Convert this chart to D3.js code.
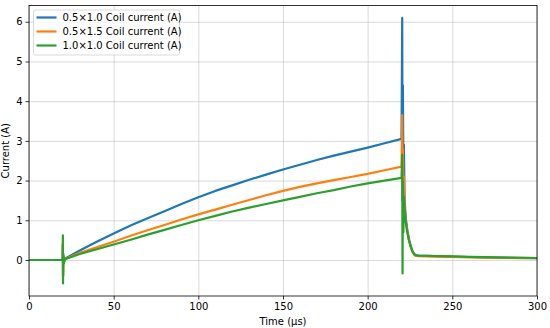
<!DOCTYPE html>
<meta charset="utf-8">
<html>
<head>
<style>
  body { margin: 0; background: #fff; }
  text { font-family: "DejaVu Sans", sans-serif; fill: #000; }
  .grid line { stroke: #b0b0b0; stroke-opacity: 0.6; stroke-width: 0.8; }
  .grid path { display: none; }
  .axis text { font-size: 10px; }
  .axis path, .axis line { stroke: #000; stroke-width: 0.8; }
</style>
</head>
<body>
<div id="chart"></div>

<script src="https://d3js.org/d3.v7.min.js"></script>
<script>

  // Time points (µs), shared by all three series
  var time = [0, 19.9, 20.0, 20.1, 20.3, 20.6, 21.2, 22,
    30, 40, 50, 60, 70, 80, 90, 100, 110, 120, 130, 140, 150, 160, 170, 180, 190, 200, 210, 220,
    220.4, 220.6, 220.8, 221.1, 221.4, 221.8, 222.5, 223.5, 224.5, 225.5, 226.5, 227.5, 228.5,
    230, 240, 250, 260, 270, 280, 290, 300];

  var current05x10 = [0, 0, 0.4, -0.4, 0.1, -0.05, 0.02, 0.05,
    0.24, 0.46, 0.67, 0.87, 1.05, 1.23, 1.41, 1.58, 1.74, 1.88, 2.02, 2.15, 2.28, 2.40, 2.52, 2.63, 2.73, 2.83, 2.94, 3.05,
    6.1, 1.5, 4.4, 2.2, 2.9, 1.5, 1.05, 0.72, 0.5, 0.34, 0.22, 0.15, 0.12,
    0.11, 0.095, 0.085, 0.075, 0.065, 0.058, 0.052, 0.047];

  var current05x15 = [0, 0, 0.4, -0.4, 0.1, -0.05, 0.02, 0.04,
    0.18, 0.32, 0.46, 0.61, 0.75, 0.88, 1.02, 1.15, 1.27, 1.39, 1.51, 1.63, 1.74, 1.84, 1.93, 2.01, 2.09, 2.17, 2.26, 2.35,
    3.65, 1.8, 2.8, 1.6, 2.1, 1.4, 1.0, 0.7, 0.48, 0.32, 0.2, 0.13, 0.1,
    0.095, 0.085, 0.075, 0.068, 0.06, 0.054, 0.049, 0.045];

  var current10x10 = [0, 0, 0.62, -0.59, 0.15, -0.08, 0.03, 0.03,
    0.15, 0.27, 0.39, 0.51, 0.64, 0.76, 0.88, 1.0, 1.11, 1.22, 1.32, 1.41, 1.50, 1.59, 1.68, 1.76, 1.85, 1.93, 2.0, 2.07,
    2.65, -0.34, 2.0, 0.7, 1.6, 1.3, 0.95, 0.68, 0.48, 0.33, 0.21, 0.15, 0.12,
    0.11, 0.1, 0.09, 0.08, 0.07, 0.062, 0.056, 0.05];

  var seriesNames = ["0.5×1.0 Coil current (A)", "0.5×1.5 Coil current (A)", "1.0×1.0 Coil current (A)"];
  var seriesColors = ["#1f77b4", "#ff7f0e", "#2ca02c"];
  var seriesValues = [current05x10, current05x15, current10x10];

  var xTicks = [0, 50, 100, 150, 200, 250, 300];
  var yTicks = [0, 1, 2, 3, 4, 5, 6];

  // Set the dimensions
  var margin = {top: 5.5, right: 13, bottom: 32, left: 29},
      width = 550 - margin.left - margin.right,
      height = 328 - margin.top - margin.bottom;

  var svg = d3.select("#chart")
    .append("svg")
      .attr("width", 550)
      .attr("height", 328)
    .append("g")
      .attr("transform", "translate(" + margin.left + "," + margin.top + ")");

  var x = d3.scaleLinear().domain([0, 300]).range([0, width]);
  var y = d3.scaleLinear().domain([-0.907, 6.41]).range([height, 0]);

  // Grid
  svg.append("g")
    .attr("class", "grid")
    .attr("transform", "translate(0," + height + ")")
    .call(d3.axisBottom(x).tickValues(xTicks).tickSize(-height).tickFormat(""));
  svg.append("g")
    .attr("class", "grid")
    .call(d3.axisLeft(y).tickValues(yTicks).tickSize(-width).tickFormat(""));

  // Lines
  seriesValues.forEach(function(vals, i) {
    var pts = time.map(function(t, j) { return [t, vals[j]]; });
    svg.append("path")
      .datum(pts)
      .attr("fill", "none")
      .attr("stroke", seriesColors[i])
      .attr("stroke-width", 2.2)
      .attr("stroke-linejoin", "round")
      .attr("d", d3.line()
        .x(function(d) { return x(d[0]); })
        .y(function(d) { return y(d[1]); }));
  });

  // Frame
  svg.append("rect")
    .attr("width", width)
    .attr("height", height)
    .attr("fill", "none")
    .attr("stroke", "#000")
    .attr("stroke-width", 0.8);

  // Axes
  var xAxis = svg.append("g")
    .attr("class", "axis")
    .attr("transform", "translate(0," + height + ")")
    .call(d3.axisBottom(x).tickValues(xTicks).tickSize(3.5).tickPadding(3).tickSizeOuter(0));
  xAxis.select(".domain").remove();

  var yAxis = svg.append("g")
    .attr("class", "axis")
    .call(d3.axisLeft(y).tickValues(yTicks).tickSize(3.5).tickPadding(3).tickSizeOuter(0));
  yAxis.select(".domain").remove();

  // Axis labels
  svg.append("text")
    .attr("text-anchor", "middle")
    .attr("x", width / 2)
    .attr("y", height + 29)
    .style("font-size", "10px")
    .text("Time (µs)");

  svg.append("text")
    .attr("text-anchor", "middle")
    .attr("transform", "translate(" + (-20) + "," + (height / 2) + ") rotate(-90)")
    .style("font-size", "10px")
    .text("Current (A)");

  // Legend
  var legend = svg.append("g").attr("transform", "translate(4.5,4.5)");
  legend.append("rect")
    .attr("width", 146)
    .attr("height", 45)
    .attr("rx", 2)
    .attr("fill", "#fff")
    .attr("fill-opacity", 0.8)
    .attr("stroke", "#d0d0d0")
    .attr("stroke-width", 0.8);

  seriesNames.forEach(function(name, i) {
    var row = legend.append("g").attr("transform", "translate(0," + (7.5 + i * 14) + ")");
    row.append("line")
      .attr("x1", 3).attr("x2", 23)
      .attr("stroke", seriesColors[i])
      .attr("stroke-width", 2.2);
    row.append("text")
      .attr("x", 29)
      .attr("dy", "0.35em")
      .style("font-size", "10px")
      .text(name);
  });

</script>
</body>
</html>
